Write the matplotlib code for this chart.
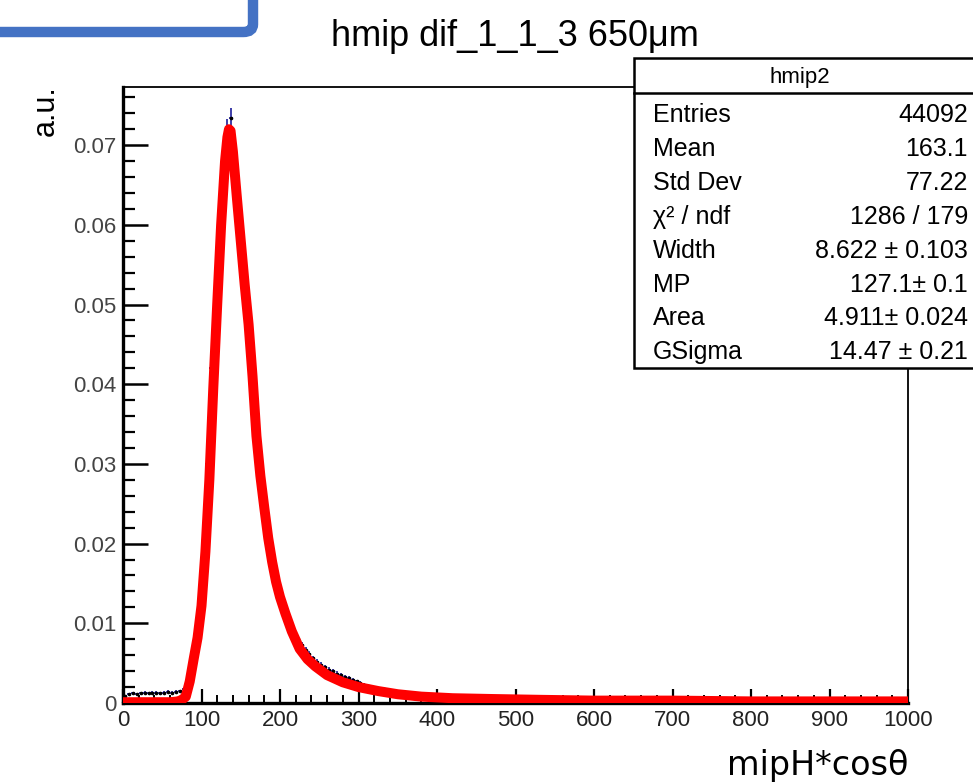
"""Recreate the ROOT-style Landau fit plot for hmip dif_1_1_3 (650 um)."""

import numpy as np
import matplotlib
matplotlib.use("Agg")
import matplotlib.pyplot as plt
from matplotlib.patches import Rectangle, FancyBboxPatch
from matplotlib.lines import Line2D
from matplotlib.ticker import MultipleLocator, FixedLocator, FixedFormatter

plt.rcParams["font.family"] = ["Liberation Sans", "DejaVu Sans"]

W, H = 973, 784

# histogram: 5-unit bins from 0 to 1000, normalised
bin_lo = np.arange(0, 1000, 5)
hist_vals = [
    # 0 - 100
    0.0009, 0.0011, 0.0012, 0.0011, 0.0012, 0.0013, 0.0012, 0.0013, 0.0013, 0.0012,
    0.0013, 0.0014, 0.0013, 0.0014, 0.0015, 0.0017, 0.0030, 0.0055, 0.0090, 0.0140,
    # 100 - 200
    0.0205, 0.0300, 0.0420, 0.0510, 0.0595, 0.0665, 0.0720, 0.0734, 0.0668, 0.0605,
    0.0545, 0.0490, 0.0435, 0.0365, 0.0305, 0.0258, 0.0220, 0.0188, 0.0160, 0.0140,
    # 200 - 300
    0.0122, 0.0108, 0.0097, 0.0088, 0.0080, 0.0073, 0.0067, 0.0061, 0.0056, 0.0052,
    0.0048, 0.0045, 0.0042, 0.0040, 0.0037, 0.0035, 0.0033, 0.0031, 0.0029, 0.0027,
    # 300 - 400
    0.0025, 0.0023, 0.0021, 0.0020, 0.0019, 0.0018, 0.0017, 0.0016, 0.0015, 0.0014,
    0.0013, 0.0013, 0.0012, 0.0011, 0.0011, 0.0010, 0.0010, 0.0009, 0.0009, 0.0009,
    # 400 - 500
    0.0009, 0.0008, 0.0008, 0.0008, 0.0008, 0.0007, 0.0008, 0.0007, 0.0007, 0.0007,
    0.0006, 0.0007, 0.0006, 0.0006, 0.0006, 0.0006, 0.0005, 0.0006, 0.0005, 0.0005,
    # 500 - 600
    0.0005, 0.0005, 0.0005, 0.0005, 0.0004, 0.0005, 0.0005, 0.0004, 0.0005, 0.0004,
    0.0004, 0.0004, 0.0004, 0.0004, 0.0004, 0.0004, 0.0004, 0.0003, 0.0004, 0.0004,
    # 600 - 700
    0.0004, 0.0003, 0.0004, 0.0003, 0.0003, 0.0003, 0.0004, 0.0003, 0.0003, 0.0003,
    0.0003, 0.0003, 0.0003, 0.0003, 0.0003, 0.0003, 0.0003, 0.0003, 0.0003, 0.0003,
    # 700 - 800
    0.0003, 0.0003, 0.0003, 0.0003, 0.0003, 0.0002, 0.0003, 0.0003, 0.0002, 0.0003,
    0.0002, 0.0003, 0.0002, 0.0002, 0.0003, 0.0002, 0.0002, 0.0002, 0.0002, 0.0002,
    # 800 - 900
    0.0002, 0.0002, 0.0002, 0.0002, 0.0002, 0.0002, 0.0002, 0.0002, 0.0002, 0.0002,
    0.0002, 0.0002, 0.0002, 0.0002, 0.0002, 0.0002, 0.0002, 0.0002, 0.0002, 0.0002,
    # 900 - 1000
    0.0002, 0.0002, 0.0002, 0.0002, 0.0002, 0.0002, 0.0002, 0.0002, 0.0002, 0.0002,
    0.0002, 0.0002, 0.0002, 0.0002, 0.0002, 0.0001, 0.0002, 0.0002, 0.0001, 0.0002,
]

# Landau (x) Gauss fit curve
fit_x = [0, 20, 40, 60, 70, 75, 80, 85, 90, 95, 100, 105, 110, 115, 120, 125, 130,
         133, 135, 137, 140, 145, 150, 155, 160, 165, 170, 175, 180, 185, 190, 195,
         200, 207, 215, 225, 235, 245, 260, 280, 300, 325, 350, 380, 420, 470, 530,
         600, 700, 800, 900, 1000]
fit_y = [0.0001, 0.0001, 0.0001, 0.0001, 0.0002, 0.0004, 0.0008, 0.0027, 0.0055,
         0.0082, 0.0122, 0.0190, 0.0280, 0.0395, 0.0500, 0.0600, 0.0680, 0.0710,
         0.0720, 0.0718, 0.0692, 0.0635, 0.0580, 0.0525, 0.0475, 0.0410, 0.0335,
         0.0285, 0.0245, 0.0207, 0.0177, 0.0152, 0.0133, 0.0112, 0.0090, 0.0068,
         0.0055, 0.0046, 0.0035, 0.0026, 0.0020, 0.0015, 0.0011, 0.0008, 0.0006,
         0.0005, 0.0004, 0.0003, 0.0003, 0.0002, 0.0002, 0.0002]

entries = 44092
stat_names = ["Entries", "Mean", "Std Dev", "\u03c7\u00b2 / ndf", "Width", "MP",
              "Area", "GSigma"]
stat_values = ["44092", "163.1", "77.22", "1286 / 179", "8.622 \u00b1 0.103",
               "127.1\u00b1 0.1", "4.911\u00b1 0.024", "14.47 \u00b1 0.21"]

x_ticks = [0, 100, 200, 300, 400, 500, 600, 700, 800, 900, 1000]
x_ticklabels = ["0", "100", "200", "300", "400", "500", "600", "700", "800",
                "900", "1000"]
y_ticks = [0, 0.01, 0.02, 0.03, 0.04, 0.05, 0.06, 0.07]
y_ticklabels = ["0", "0.01", "0.02", "0.03", "0.04", "0.05", "0.06", "0.07"]


def fx(px):
    return px / W


def fy(py):
    return 1 - py / H


fig = plt.figure(figsize=(W / 100, H / 100), dpi=100)

ax = fig.add_axes([fx(123), fy(703), (908 - 123) / W, (703 - 87) / H])

vals = np.array(hist_vals)
centers = bin_lo + 2.5
ax.errorbar(centers, vals, xerr=2.5, yerr=np.sqrt(vals / entries), fmt="o",
            ms=1.6, mfc="black", mec="black", ecolor="#1c1c9a", elinewidth=1.2,
            capsize=0, zorder=2)
ax.plot(fit_x, fit_y, color="#ff0000", lw=7.2, solid_capstyle="butt",
        solid_joinstyle="round", zorder=3)

ax.set_xlim(0, 1000)
ax.set_ylim(0, 0.0773)

ax.xaxis.set_major_locator(FixedLocator(x_ticks))
ax.xaxis.set_major_formatter(FixedFormatter(x_ticklabels))
ax.yaxis.set_major_locator(FixedLocator(y_ticks))
ax.yaxis.set_major_formatter(FixedFormatter(y_ticklabels))
ax.xaxis.set_minor_locator(MultipleLocator(20))
ax.yaxis.set_minor_locator(MultipleLocator(0.002))

ax.tick_params(axis="x", which="major", direction="in", length=10, width=1.6,
               labelsize=16, pad=5, labelcolor="#222222")
ax.tick_params(axis="x", which="minor", direction="in", length=5.5, width=1.4)
ax.tick_params(axis="y", which="major", direction="in", length=18, width=1.8,
               labelsize=16, pad=5, labelcolor="#444444")
ax.tick_params(axis="y", which="minor", direction="in", length=8.5, width=1.6)

for side in ("left", "bottom"):
    ax.spines[side].set_linewidth(2.4)
for side in ("top", "right"):
    ax.spines[side].set_linewidth(1.3)

# axis titles and plot title
fig.text(fx(515), fy(37), "hmip dif_1_1_3 650\u03bcm", ha="center", va="center",
         fontsize=26)
fig.text(fx(46), fy(85), "a.u.", rotation=90, ha="center", va="top", fontsize=22)
fig.text(fx(908), fy(765), "mipH*cos\u03b8", ha="right", va="center", fontsize=24,
         family=["DejaVu Sans"])

# stats box
box = Rectangle((fx(634), fy(368)), fx(1000) - fx(634), fy(58) - fy(368),
                transform=fig.transFigure, facecolor="white", edgecolor="black",
                lw=1.8, zorder=5, clip_on=False)
fig.add_artist(box)
fig.add_artist(Line2D([fx(634), 1.0], [fy(93), fy(93)], transform=fig.transFigure,
                      color="black", lw=1.8, zorder=6))
fig.text(fx(800), fy(77), "hmip2", ha="center", va="center", fontsize=16,
         zorder=7)
for i, (name, value) in enumerate(zip(stat_names, stat_values)):
    row_y = fy(115 + 33.9 * i)
    fig.text(fx(653), row_y, name, ha="left", va="center", fontsize=18, zorder=7)
    fig.text(fx(968), row_y, value, ha="right", va="center", fontsize=18,
             zorder=7)

# blue frame from the slide, partially off-canvas
frame = FancyBboxPatch((fx(-30), fy(32)), fx(253) - fx(-30), 0.2,
                       boxstyle="round,pad=0,rounding_size=0.01",
                       transform=fig.transFigure, facecolor="none",
                       edgecolor="#4472c4", lw=7.5, clip_on=False)
fig.add_artist(frame)

fig.savefig("out.png", dpi=100, facecolor="white")
